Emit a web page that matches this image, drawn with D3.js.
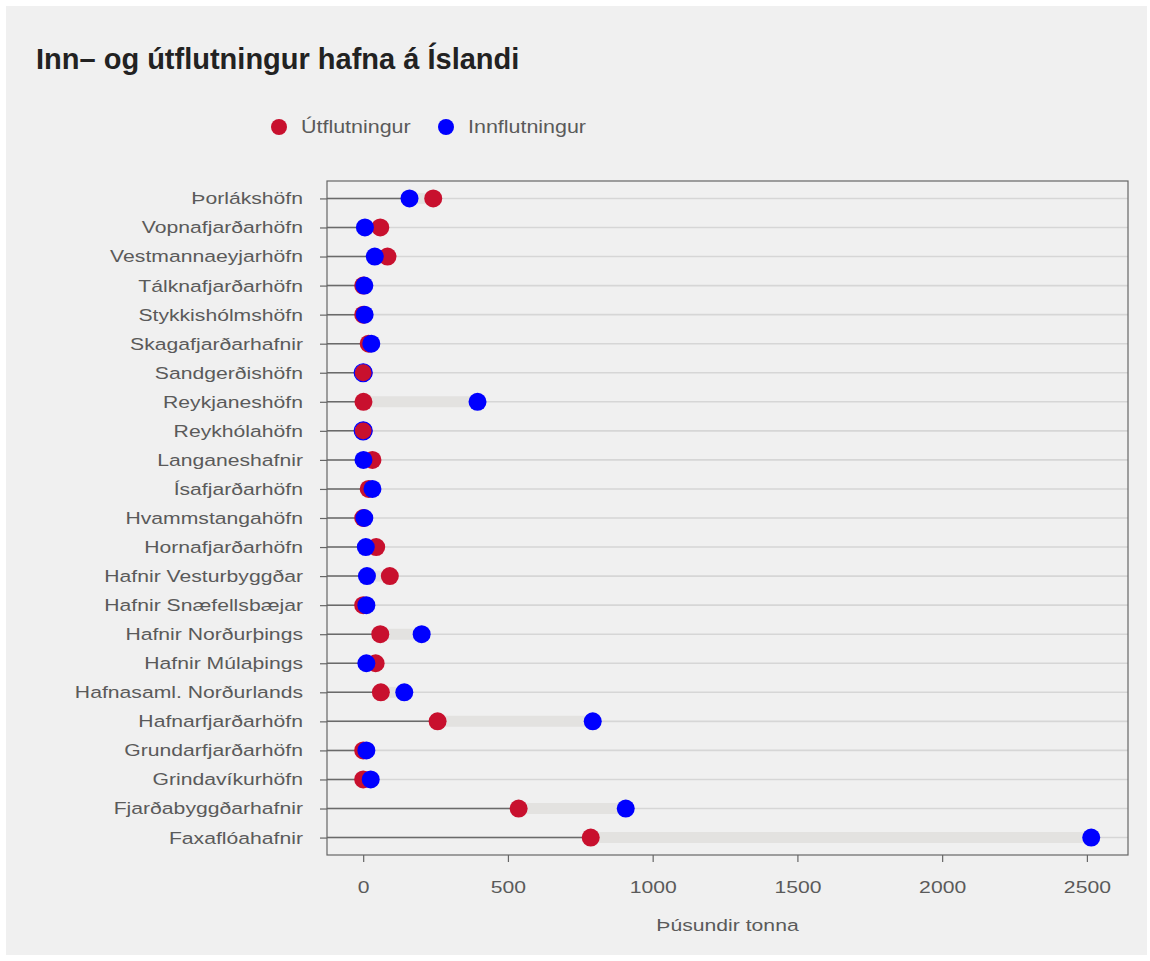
<!DOCTYPE html>
<html>
<head>
<meta charset="utf-8">
<script src="https://cdn.jsdelivr.net/npm/d3@7"></script>
<style>
  html, body { margin: 0; padding: 0; background: #ffffff; }
  svg { display: block; font-family: "Liberation Sans", Arial, sans-serif; }
</style>
</head>
<body>
<svg id="chart" width="1150" height="961"></svg>
<script>
const hafnir = [
  "Þorlákshöfn", "Vopnafjarðarhöfn", "Vestmannaeyjarhöfn", "Tálknafjarðarhöfn",
  "Stykkishólmshöfn", "Skagafjarðarhafnir", "Sandgerðishöfn", "Reykjaneshöfn",
  "Reykhólahöfn", "Langaneshafnir", "Ísafjarðarhöfn", "Hvammstangahöfn",
  "Hornafjarðarhöfn", "Hafnir Vesturbyggðar", "Hafnir Snæfellsbæjar",
  "Hafnir Norðurþings", "Hafnir Múlaþings", "Hafnasaml. Norðurlands",
  "Hafnarfjarðarhöfn", "Grundarfjarðarhöfn", "Grindavíkurhöfn",
  "Fjarðabyggðarhafnir", "Faxaflóahafnir"
];
const utflutningur = [242, 59, 84, 0, 0, 19, 1, 1, 1, 32, 19, 0, 45, 92, 0, 59, 43, 61, 257, 0, 0, 537, 786];
const innflutningur = [160, 6, 40, 4, 5, 28, 0, 395, 0, 1, 32, 4, 9, 13, 11, 202, 11, 142, 793, 11, 26, 907, 2515];
const xTicks = [0, 500, 1000, 1500, 2000, 2500];
const seriesNames = ["Útflutningur", "Innflutningur"];
const seriesColors = ["#c8102e", "#0000ff"];

const svg = d3.select("#chart");
const W = 1150, H = 961;
const panel = { left: 327, right: 1128, top: 181, bottom: 855 };
const STRETCH = 1.245;

// backgrounds
svg.append("rect").attr("x", 0).attr("y", 0).attr("width", W).attr("height", H).attr("fill", "#ffffff");
svg.append("rect").attr("x", 6).attr("y", 6).attr("width", 1141).attr("height", 949).attr("fill", "#f0f0f0");

// title
svg.append("text").attr("x", 36).attr("y", 69)
  .attr("font-size", 29).attr("font-weight", "bold").attr("fill", "#222222")
  .text("Inn– og útflutningur hafna á Íslandi");

// legend
const legendX = [279, 446];
seriesNames.forEach((name, i) => {
  const g = svg.append("g");
  g.append("circle").attr("cx", legendX[i]).attr("cy", 127).attr("r", 8).attr("fill", seriesColors[i]);
  g.append("text").attr("x", 0).attr("y", 0).attr("dy", "0.35em")
    .attr("transform", `translate(${legendX[i] + 22},127) scale(1.16,1)`)
    .attr("font-size", 18.5).attr("fill", "#5a5a5a").text(name);
});

// scales
const x = d3.scaleLinear().domain([-125, 2642]).range([panel.left, panel.right]);
const y = d3.scalePoint().domain(hafnir).range([panel.top, panel.bottom]).padding(0.6);

// gridlines
svg.append("g").selectAll("line").data(hafnir).join("line")
  .attr("x1", panel.left).attr("x2", panel.right)
  .attr("y1", d => y(d)).attr("y2", d => y(d))
  .attr("stroke", "#d6d6d6").attr("stroke-width", 1.6);

const rows = hafnir.map((h, i) => ({
  h, ut: utflutningur[i], inn: innflutningur[i],
  lo: Math.min(utflutningur[i], innflutningur[i]),
  hi: Math.max(utflutningur[i], innflutningur[i])
}));

// dark line from axis to first point
svg.append("g").selectAll("line").data(rows).join("line")
  .attr("x1", panel.left).attr("x2", d => x(d.lo))
  .attr("y1", d => y(d.h)).attr("y2", d => y(d.h))
  .attr("stroke", "#6a6a6a").attr("stroke-width", 1.5);

// thick connecting segment
svg.append("g").selectAll("line").data(rows).join("line")
  .attr("x1", d => x(d.lo)).attr("x2", d => x(d.hi))
  .attr("y1", d => y(d.h)).attr("y2", d => y(d.h))
  .attr("stroke", "#e3e2e0").attr("stroke-width", 11);

// points
svg.append("g").selectAll("circle").data(rows).join("circle")
  .attr("cx", d => x(d.ut)).attr("cy", d => y(d.h)).attr("r", 9)
  .attr("fill", seriesColors[0]);
svg.append("g").selectAll("circle").data(rows.filter(d => d.inn !== 0)).join("circle")
  .attr("cx", d => x(d.inn)).attr("cy", d => y(d.h)).attr("r", 9)
  .attr("fill", seriesColors[1]);
svg.append("g").selectAll("circle").data(rows.filter(d => d.inn === 0 && d.ut < 5)).join("circle")
  .attr("cx", d => x(d.inn)).attr("cy", d => y(d.h)).attr("r", 9)
  .attr("fill", "none").attr("stroke", seriesColors[1]).attr("stroke-width", 1.2);

// panel border
svg.append("rect").attr("x", panel.left).attr("y", panel.top)
  .attr("width", panel.right - panel.left).attr("height", panel.bottom - panel.top)
  .attr("fill", "none").attr("stroke", "#666666").attr("stroke-width", 1.2);

function stretchText(sel) {
  sel.each(function () {
    const t = d3.select(this);
    const tx = +t.attr("x") || 0;
    const ty = +t.attr("y") || 0;
    t.attr("x", 0).attr("y", 0).attr("transform", `translate(${tx},${ty}) scale(${STRETCH},1)`);
  });
}

// axes
const yAxis = d3.axisLeft(y).tickSize(7).tickPadding(17);
const gy = svg.append("g").attr("transform", `translate(${panel.left},0)`).call(yAxis);
gy.select(".domain").remove();
gy.selectAll(".tick line").attr("stroke", "#666666").attr("stroke-width", 1.2);
gy.selectAll(".tick text").attr("font-size", 17).attr("fill", "#5a5a5a")
  .attr("font-family", "'Liberation Sans', Arial, sans-serif").call(stretchText);

const xAxis = d3.axisBottom(x).tickValues(xTicks).tickFormat(d3.format("d")).tickSize(7).tickPadding(19);
const gx = svg.append("g").attr("transform", `translate(0,${panel.bottom})`).call(xAxis);
gx.select(".domain").remove();
gx.selectAll(".tick line").attr("stroke", "#666666").attr("stroke-width", 1.2);
gx.selectAll(".tick text").attr("font-size", 17).attr("fill", "#5a5a5a")
  .attr("font-family", "'Liberation Sans', Arial, sans-serif").call(stretchText);

svg.append("text").attr("x", 0).attr("y", 0)
  .attr("transform", `translate(${(panel.left + panel.right) / 2},931) scale(${STRETCH},1)`)
  .attr("text-anchor", "middle").attr("font-size", 17).attr("fill", "#5a5a5a")
  .text("Þúsundir tonna");
</script>
</body>
</html>
